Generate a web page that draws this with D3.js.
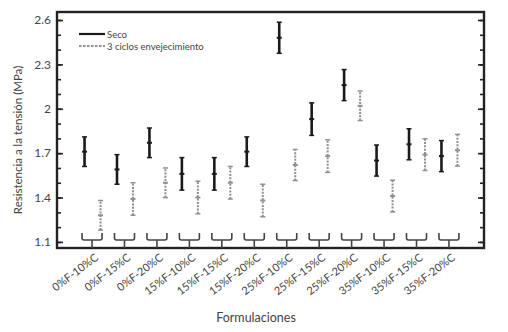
<!DOCTYPE html>
<html>
<head>
<meta charset="utf-8">
<script src="https://cdn.jsdelivr.net/npm/d3@7"></script>
<style>
  body { margin: 0; background: #fff; }
  svg text { font-family: Lato, "DejaVu Sans", sans-serif; fill: #444; }
</style>
</head>
<body>
<svg id="chart" width="508" height="332"></svg>
<script>
// data
const categories = ['0%F-10%C', '0%F-15%C', '0%F-20%C', '15%F-10%C', '15%F-15%C', '15%F-20%C',
  '25%F-10%C', '25%F-15%C', '25%F-20%C', '35%F-10%C', '35%F-15%C', '35%F-20%C'];
const secoMean = [1.71, 1.59, 1.77, 1.56, 1.56, 1.71, 2.48, 1.93, 2.16, 1.65, 1.76, 1.68];
const secoErr = [0.10, 0.10, 0.10, 0.11, 0.11, 0.10, 0.105, 0.11, 0.105, 0.105, 0.105, 0.105];
const agedMean = [1.28, 1.39, 1.50, 1.40, 1.50, 1.38, 1.62, 1.68, 2.02, 1.41, 1.69, 1.72];
const agedErr = [0.10, 0.11, 0.10, 0.11, 0.11, 0.11, 0.105, 0.11, 0.10, 0.107, 0.107, 0.107];
const yMajor = [1.1, 1.4, 1.7, 2, 2.3, 2.6];
const yMinor = d3.range(11, 27).map(d => d / 10);
const legendLabels = ['Seco', '3 ciclos envejecimiento'];

const margin = {top: 12, right: 24, bottom: 84, left: 57};
const width = 508 - margin.left - margin.right
  , height = 332 - margin.top - margin.bottom;

const svg = d3.select('#chart');
const g = svg.append('g').attr('transform', `translate(${margin.left},${margin.top})`);

const x = d3.scalePoint().domain(categories).range([0, width]).padding(1.08);
const y = d3.scaleLinear().domain([1.059, 2.654]).range([height, 0]);

const frame = '#222';

// minor ticks, both sides, pointing inward
const yMinorLeft = d3.axisLeft(y).tickValues(yMinor).tickSize(-4).tickFormat('');
const yMinorRight = d3.axisRight(y).tickValues(yMinor).tickSize(-4).tickFormat('');
g.append('g').call(yMinorLeft);
g.append('g').attr('transform', `translate(${width},0)`).call(yMinorRight);

// major ticks + labels
const yAxis = d3.axisLeft(y).tickValues(yMajor).tickSize(-6).tickPadding(6)
  .tickFormat(d => d === 2 ? '2' : d3.format('.1f')(d));
g.append('g').attr('class', 'y axis').call(yAxis);
g.append('g').attr('transform', `translate(${width},0)`)
  .call(d3.axisRight(y).tickValues(yMajor).tickSize(-6).tickFormat(''));

g.selectAll('.domain').remove();
g.selectAll('.tick line').attr('stroke', frame).attr('stroke-width', 1.6);
g.selectAll('.y.axis .tick text').style('font-size', '12px').attr('fill', '#444');

// frame
g.append('rect').attr('width', width).attr('height', height)
  .attr('fill', 'none').attr('stroke', frame).attr('stroke-width', 2.4);

// brackets under each category
const bracket = g.append('g').attr('fill', 'none').attr('stroke', '#444').attr('stroke-width', 1.6);
categories.forEach(c => {
  const cx = x(c), yb = height - 8, yt = height - 15;
  bracket.append('path')
    .attr('d', `M${cx - 10},${yt} V${yb - 2} Q${cx - 10},${yb} ${cx - 8},${yb} H${cx + 8} Q${cx + 10},${yb} ${cx + 10},${yb - 2} V${yt}`);
  bracket.append('path').attr('d', `M${cx},${yb} V${height}`);
});

// error bars
function drawSeries(means, errs, dx, color, dash, lw) {
  const s = g.append('g');
  means.forEach((m, i) => {
    const cx = x(categories[i]) + dx;
    const y0 = y(m - errs[i]), y1 = y(m + errs[i]);
    s.append('line').attr('x1', cx).attr('x2', cx).attr('y1', y0).attr('y2', y1)
      .attr('stroke', color).attr('stroke-width', lw).attr('stroke-dasharray', dash);
    [y0, y1].forEach(yy => s.append('line')
      .attr('x1', cx - 2.5).attr('x2', cx + 2.5).attr('y1', yy).attr('y2', yy)
      .attr('stroke', color).attr('stroke-width', 1.5));
    s.append('line').attr('x1', cx - 2.5).attr('x2', cx + 2.5).attr('y1', y(m)).attr('y2', y(m))
      .attr('stroke', color).attr('stroke-width', 2);
  });
}
drawSeries(secoMean, secoErr, -7.5, '#1a1a1a', null, 2.6);
drawSeries(agedMean, agedErr, 8.5, '#909090', '2,1.3', 2);

// legend
const legend = g.append('g').attr('transform', 'translate(22,22)');
legend.append('line').attr('x1', 0).attr('x2', 26).attr('stroke', '#1a1a1a').attr('stroke-width', 2.2);
legend.append('line').attr('x1', 0).attr('x2', 26).attr('y1', 12).attr('y2', 12)
  .attr('stroke', '#909090').attr('stroke-width', 1.8).attr('stroke-dasharray', '2.5,1.5');
legendLabels.forEach((t, i) => legend.append('text').attr('x', 28).attr('y', i * 12 + 3.5)
  .style('font-size', '9.5px').text(t));

// x labels
g.selectAll('.xlab').data(categories).enter().append('text')
  .attr('class', 'xlab')
  .attr('text-anchor', 'end')
  .attr('transform', d => `translate(${x(d) + 7},${height + 11}) rotate(-37)`)
  .style('font-size', '11px')
  .text(d => d);

// axis titles
svg.append('text').attr('text-anchor', 'middle')
  .attr('x', 256).attr('y', 322).style('font-size', '12.5px').text('Formulaciones');
svg.append('text').attr('text-anchor', 'middle')
  .attr('transform', 'translate(22,140) rotate(-90)')
  .style('font-size', '11.5px').text('Resistencia a la tensión (MPa)');
</script>
</body>
</html>
